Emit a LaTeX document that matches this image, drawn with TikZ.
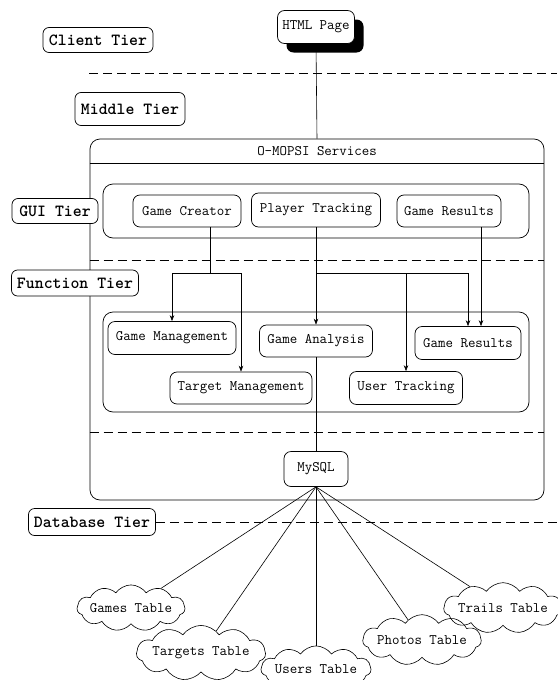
\documentclass[tikz,border=0pt]{standalone}
\usepackage{fontspec}
\usetikzlibrary{shapes.symbols,arrows.meta,shadows}
\begin{document}
\begin{tikzpicture}[x=1pt,y=-1pt,
  every node/.style={font=\ttfamily\fontsize{14.5}{16}\selectfont, inner sep=2pt},
  box/.style={draw, line width=0.7pt, rounded corners=7pt, align=center},
  tier/.style={draw, line width=0.7pt, rounded corners=6pt, font=\ttfamily\bfseries\fontsize{17}{19}\selectfont},
  group/.style={draw, line width=0.7pt, rounded corners=10pt},
  tbl/.style={draw, line width=0.6pt, cloud, cloud puffs=11, cloud puff arc=110, aspect=3.4, inner sep=-3pt},
  conn/.style={line width=0.6pt},
  arr/.style={line width=0.6pt, -{Stealth[length=6pt,width=4.5pt]}},
  sep/.style={line width=0.7pt, dash pattern=on 9pt off 5pt}
]
\useasboundingbox (0,0) rectangle (557,680);

% client tier
\node[tier, minimum width=110pt, minimum height=25pt] (client) at (98,40) {Client Tier};
\node[box, fill=white, minimum width=77pt, minimum height=33pt,
  drop shadow={shadow xshift=9pt, shadow yshift=-9pt, fill=black, opacity=1}] (html) at (316,27) {HTML Page};
\draw[sep] (89,73) -- (557,73);

% middle tier
\node[tier, minimum width=110pt, minimum height=33pt] (middle) at (130,109) {Middle Tier};
\node[group, minimum width=454pt, minimum height=361pt] (svc) at (317,319.5) {};
\draw[line width=0.7pt] (svc.west |- 0,163) -- (svc.east |- 0,163);
\node (svctitle) at (317,151) {O-MOPSI Services};
\draw[conn] (html.south) -- (svc.north);

% GUI tier
\node[group, minimum width=426pt, minimum height=54pt] (gui) at (316,211) {};
\node[tier, minimum width=86pt, minimum height=25pt, fill=white] (guitier) at (55,211) {GUI Tier};
\node[box, minimum width=108pt, minimum height=32pt] (creator) at (187,211) {Game Creator};
\node[box, minimum width=129pt, minimum height=34pt] (ptrack) at (316,210) {Player Tracking};
\node[box, minimum width=104pt, minimum height=32pt] (gres) at (449,211) {Game Results};
\draw[sep] (svc.west |- 0,260) -- (svc.east |- 0,260);

% function tier
\node[tier, minimum width=127pt, minimum height=26pt, fill=white] (functier) at (75,283) {Function Tier};
\node[group, minimum width=426pt, minimum height=100pt] (func) at (316,362) {};
\node[box, minimum width=128pt, minimum height=33pt] (gman) at (172,338) {Game Management};
\node[box, minimum width=113pt, minimum height=32pt] (gana) at (316,341) {Game Analysis};
\node[box, minimum width=106pt, minimum height=33pt] (fres) at (468,343) {Game Results};
\node[box, minimum width=142pt, minimum height=32pt] (tman) at (241,388) {Target Management};
\node[box, minimum width=113pt, minimum height=33pt] (utrack) at (406,388) {User Tracking};
\draw[sep] (svc.west |- 0,432) -- (svc.east |- 0,432);

% connectors GUI -> function
\coordinate (j1) at (210,273);
\coordinate (j2) at (316,273);
\coordinate (g3) at (481,0);
\draw[conn] (creator.south -| j1) -- (j1);
\draw[arr] (j1) -| (gman.north);
\draw[arr] (j1) -| (tman.north);
\draw[conn] (ptrack.south) -- (j2);
\draw[arr] (j2) -- (gana.north);
\draw[arr] (j2) -| (utrack.north);
\draw[arr] (j2) -| (fres.north);
\draw[arr] (gres.south -| g3) -- (fres.north -| g3);

% database
\node[box, minimum width=64pt, minimum height=35pt] (mysql) at (316,469) {MySQL};
\draw[conn] (gana.south) -- (mysql.north);
\node[tier, minimum width=127pt, minimum height=27pt] (dbtier) at (92,522) {Database Tier};
\draw[sep] (dbtier.east) -- (557,522);

\node[tbl, minimum width=102pt, minimum height=36pt] (games) at (131,608) {Games Table};
\node[tbl, minimum width=122pt, minimum height=36pt] (targets) at (201,653) {Targets Table};
\node[tbl, minimum width=110pt, minimum height=36pt] (users) at (316,669) {Users Table};
\node[tbl, minimum width=110pt, minimum height=38pt] (photos) at (422,640) {Photos Table};
\node[tbl, minimum width=112pt, minimum height=40pt] (trails) at (503,608) {Trails Table};
\foreach \t in {games,targets,users,photos,trails}
  \draw[conn] (mysql.south) -- (\t);
\end{tikzpicture}
\end{document}
